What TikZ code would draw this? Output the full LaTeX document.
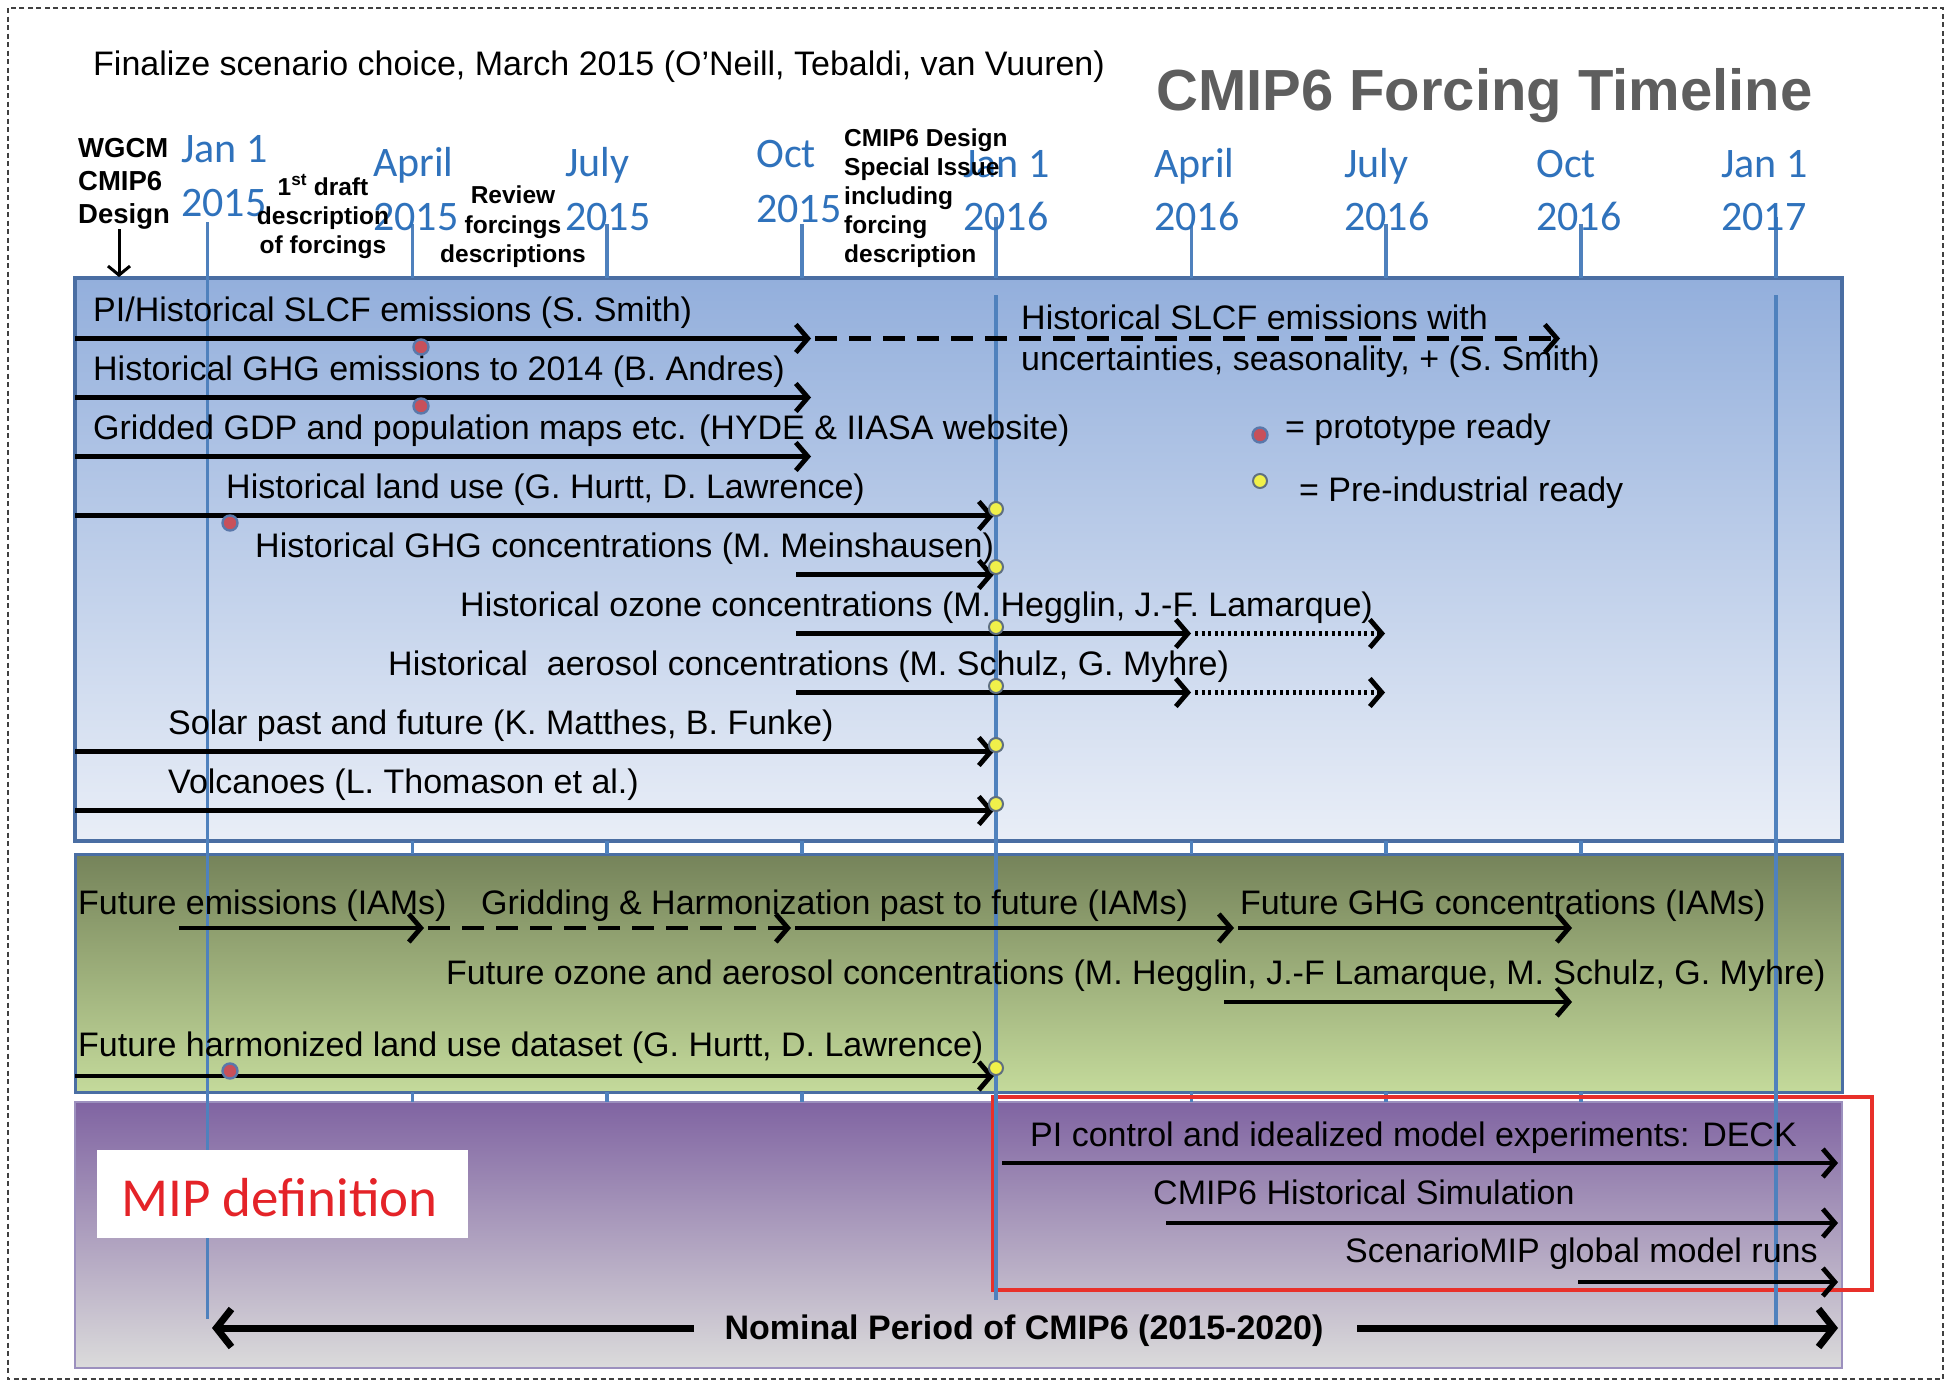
\documentclass[tikz,border=0pt]{standalone}
\usepackage{fontspec}
\setmainfont{Liberation Sans}
\newfontfamily\carlito{Carlito}
\usetikzlibrary{arrows.meta}

\definecolor{tlblue}{HTML}{4F81BD}
\definecolor{monthblue}{HTML}{2F72BC}
\definecolor{panelblueT}{HTML}{93AFDC}
\definecolor{panelblueB}{HTML}{E9EEF7}
\definecolor{panelgreenT}{HTML}{75835A}
\definecolor{panelgreenB}{HTML}{C4DA9B}
\definecolor{panelpurpT}{HTML}{8064A2}
\definecolor{panelpurpB}{HTML}{DBDBDB}
\definecolor{frameblue}{HTML}{4A6EA3}
\definecolor{framepurp}{HTML}{9C90BE}
\definecolor{headgray}{HTML}{5E5E5E}
\definecolor{boxred}{HTML}{E8302A}
\definecolor{miptext}{HTML}{E42328}
\definecolor{protofill}{HTML}{C8505A}
\definecolor{protoring}{HTML}{5A78AA}
\definecolor{prefill}{HTML}{F0F04A}
\definecolor{prering}{HTML}{5F6F80}

\newcommand\txtbody{\fontsize{34}{40}\selectfont}
\newcommand\txtsmall{\fontsize{24.5}{29}\selectfont\bfseries}
\newcommand\txtwg{\fontsize{27.5}{33}\selectfont\bfseries}
\newcommand\txtmonth{\carlito\fontsize{42}{50}\selectfont}
\newcommand\txthead{\fontsize{58}{66}\selectfont\bfseries}

\begin{document}
\begin{tikzpicture}[x=1pt,y=-1pt,
  lbl/.style={anchor=base west,inner sep=0pt,font=\txtbody},
  note/.style={anchor=base west,inner sep=0pt,font=\txtsmall},
  notec/.style={anchor=base,inner sep=0pt,font=\txtsmall},
  month/.style={anchor=base west,inner sep=0pt,font=\txtmonth,text=monthblue},
  tick/.style={draw=tlblue,line width=3.2pt},
  bar/.style={line width=4.8pt,-{Straight Barb[length=12pt,width=28pt,line width=4.8pt]}},
  dashbar/.style={bar,dash pattern=on 22pt off 12pt},
  dotbar/.style={bar,dash pattern=on 3pt off 3.5pt},
  bigbar/.style={line width=7pt,-{Straight Barb[length=15pt,width=38pt,line width=7pt]}},
  protodot/.style={circle,inner sep=0pt,minimum size=15pt,fill=protofill,draw=protoring,line width=2.4pt},
  predot/.style={circle,inner sep=0pt,minimum size=14pt,fill=prefill,draw=prering,line width=2pt}]

\useasboundingbox (0,0) rectangle (1950,1392);
\fill[white] (0,0) rectangle (1950,1392);

% outer frame
\draw[black!75,line width=1.8pt,dash pattern=on 5pt off 3.5pt] (8,8) rectangle (1943,1379);

% the three bands
\shade[top color=panelblueT,bottom color=panelblueB] (75,278) rectangle (1842,841);
\draw[frameblue,line width=3.5pt] (75,278) rectangle (1842,841);
\shade[top color=panelgreenT,bottom color=panelgreenB] (75,854) rectangle (1842,1092);
\draw[frameblue,line width=3pt] (75,854) rectangle (1842,1092);
\shade[top color=panelpurpT,bottom color=panelpurpB] (75,1102) rectangle (1842,1368);
\draw[framepurp,line width=2.5pt] (75,1102) rectangle (1842,1368);

% quarter ticks above and between the bands
\foreach \x in {412.7,607,802,1191.5,1386,1581} {
  \draw[tick] (\x,224) -- (\x,278);
  \draw[tick] (\x,841) -- (\x,854);
  \draw[tick] (\x,1092) -- (\x,1102);
}

% experiments frame
\draw[boxred,line width=4.5pt] (993,1097) rectangle (1872,1290);

% year lines
\draw[tick] (207.5,222) -- (207.5,1319);
\draw[tick] (996,217) -- (996,278);
\draw[tick] (996,295) -- (996,1300);
\draw[tick] (1776,217) -- (1776,278);
\draw[tick] (1776,295) -- (1776,1331);

% month labels
\foreach \n/\x/\ya/\yb/\ta/\tb in {
  a/181/162/216/Jan 1/2015,
  b/373/176/230/April/2015,
  c/565/176/230/July/2015,
  d/756/167/222/Oct/2015,
  e/963/177/230/Jan 1/2016,
  f/1154/177/230/April/2016,
  g/1344/177/230/July/2016,
  h/1536/177/230/Oct/2016,
  i/1721/177/230/Jan 1/2017} {
  \node[month] (mon\n top) at (\x,\ya) {\ta};
  \node[month] (mon\n bot) at (\x,\yb) {\tb};
}

% header texts
\node[lbl] (finalize) at (93,75) {Finalize scenario choice, March 2015 (O'Neill, Tebaldi, van Vuuren)};
\node[anchor=base west,inner sep=0pt,font=\txthead,text=headgray] (heading) at (1156,110) {CMIP6 Forcing Timeline};

% milestone notes
\node[anchor=base west,inner sep=0pt,font=\txtwg] (wg1) at (78,157) {WGCM};
\node[anchor=base west,inner sep=0pt,font=\txtwg] (wg2) at (78,190) {CMIP6};
\node[anchor=base west,inner sep=0pt,font=\txtwg] (wg3) at (78,223) {Design};
\coordinate (wgdown) at (119,277);
\draw[line width=3pt,-{Straight Barb[length=9pt,width=22pt,line width=3pt]}] (119,229) -- (wgdown);

\node[notec] (dr1) at (323,195) {1\textsuperscript{st} draft};
\node[notec] (dr2) at (323,224) {description};
\node[notec] (dr3) at (323,253) {of forcings};

\node[notec] (rv1) at (513,203) {Review};
\node[notec] (rv2) at (513,233) {forcings};
\node[notec] (rv3) at (513,262) {descriptions};

\node[note] (si1) at (844,146) {CMIP6 Design};
\node[note] (si2) at (844,175) {Special Issue};
\node[note] (si3) at (844,204) {including};
\node[note] (si4) at (844,233) {forcing};
\node[note] (si5) at (844,262) {description};

% historical forcing rows
\node[lbl] (h1) at (93,321) {PI/Historical SLCF emissions (S. Smith)};
\node[lbl] (h2) at (93,380) {Historical GHG emissions to 2014 (B. Andres)};
\node[lbl] (h3) at (93,439) {Gridded GDP and population maps etc. (HYDE \& IIASA website)};
\node[lbl] (h4) at (226,498) {Historical land use (G. Hurtt, D. Lawrence)};
\node[lbl] (h5) at (255,557) {Historical GHG concentrations (M. Meinshausen)};
\node[lbl] (h6) at (460,616) {Historical ozone concentrations (M. Hegglin, J.-F. Lamarque)};
\node[lbl] (h7) at (388,675) {Historical\ \ aerosol concentrations (M. Schulz, G. Myhre)};
\node[lbl] (h8) at (168,734) {Solar past and future (K. Matthes, B. Funke)};
\node[lbl] (h9) at (168,793) {Volcanoes (L. Thomason et al.)};
\node[lbl] (h1b) at (1021,329) {Historical SLCF emissions with};
\node[lbl] (h1c) at (1021,370) {uncertainties, seasonality, + (S. Smith)};

\draw[bar] (75,338.5) -- (811,338.5);
\draw[dashbar] (815,338.5) -- (1560,338.5);
\draw[bar] (75,397.5) -- (811,397.5);
\draw[bar] (75,456.5) -- (811,456.5);
\draw[bar] (75,515.5) -- (994,515.5);
\draw[bar] (796,574.5) -- (994,574.5);
\draw[bar] (796,633.5) -- (1191,633.5);
\draw[dotbar] (1195,633.5) -- (1385,633.5);
\draw[bar] (796,692.5) -- (1191,692.5);
\draw[dotbar] (1195,692.5) -- (1385,692.5);
\draw[bar] (75,751.5) -- (994,751.5);
\draw[bar] (75,810.5) -- (994,810.5);

% readiness markers
\node[protodot] (p1) at (421,347) {};
\node[protodot] (p2) at (421,406) {};
\node[protodot] (p3) at (230,523) {};
\foreach \y [count=\i] in {509,567,627,686,745,804} {
  \node[predot] (q\i) at (996,\y) {};
}

% legend
\node[protodot] (legp) at (1260,435) {};
\node[lbl] (legpt) at (1285,438) {= prototype ready};
\node[predot] (legq) at (1260,481) {};
\node[lbl] (legqt) at (1299,501) {= Pre-industrial ready};

% future forcing rows
\node[lbl] (f1) at (78,914) {Future emissions (IAMs)};
\node[lbl] (f2) at (481,914) {Gridding \& Harmonization past to future (IAMs)};
\node[lbl] (f3) at (1240,914) {Future GHG concentrations (IAMs)};
\node[lbl] (f4) at (446,984) {Future ozone and aerosol concentrations (M. Hegglin, J.-F Lamarque, M. Schulz, G. Myhre)};
\node[lbl] (f5) at (78,1056) {Future harmonized land use dataset (G. Hurtt, D. Lawrence)};

\draw[bar] (179,928) -- (424,928);
\draw[dashbar] (428,928) -- (791,928);
\draw[bar] (795,928) -- (1234,928);
\draw[bar] (1238,928) -- (1572,928);
\draw[bar] (1224,1002) -- (1572,1002);
\draw[bar] (75,1076) -- (994,1076);
\node[protodot] (p4) at (230,1071) {};
\node[predot] (q7) at (996,1068) {};

% model experiments
\node[lbl] (e1) at (1030,1146) {PI control and idealized model experiments: DECK};
\node[lbl] (e2) at (1153,1204) {CMIP6 Historical Simulation};
\node[lbl] (e3) at (1345,1262) {ScenarioMIP global model runs};
\draw[bar] (1002,1163) -- (1838,1163);
\draw[bar] (1166,1223) -- (1838,1223);
\draw[bar] (1578,1282) -- (1838,1282);

% MIP label
\fill[white] (97,1150) rectangle (468,1238);
\node[anchor=base west,inner sep=0pt,font=\carlito\fontsize{55}{60}\selectfont,text=miptext] (mip) at (121,1216) {MIP definition};

% nominal period
\node[anchor=base,inner sep=0pt,font=\txtbody\bfseries] (nominal) at (1024,1339) {Nominal Period of CMIP6 (2015-2020)};
\draw[bigbar] (694,1328) -- (212,1328);
\draw[bigbar] (1357,1328) -- (1838,1328);

\end{tikzpicture}
\end{document}
